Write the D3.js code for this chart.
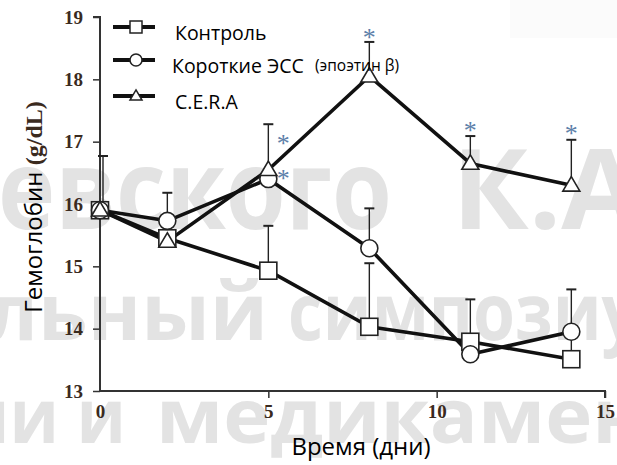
<!DOCTYPE html>
<html><head><meta charset="utf-8">
<script src="https://cdn.jsdelivr.net/npm/d3@7"></script>
<style>body{margin:0;background:#fff}svg{display:block}</style>
</head><body>
<script>
const days = [0, 2, 5, 8, 11, 14];
const control = [15.9, 15.45, 14.93, 14.03, 13.79, 13.51];
const shortESA = [15.9, 15.73, 16.4, 15.29, 13.59, 13.95];
const cera = [15.9, 15.4, 16.55, 18.05, 16.65, 16.3];
const controlErr = [0.87, null, 0.72, 1.02, 0.68, 0.45];
const shortESAErr = [null, 0.45, null, 0.64, null, 0.68];
const ceraErr = [null, null, 0.73, 0.55, 0.44, 0.73];
const asteriskDays = [5, 5, 8, 11, 14];
const asteriskVals = [17.07, 16.51, 18.78, 17.28, 17.24];
const asteriskShift = [1, 1, 0, 0, 0];
const xTicks = [0, 5, 10, 15];
const yTicks = [13, 14, 15, 16, 17, 18, 19];
const seriesNames = ["Контроль", "Короткие ЭСС", "C.E.R.A"];
const seriesNote = ["", "(эпоэтин β)", ""];
const watermarkWords = ["евского", "К.А", "льный", "симпозиу", "ии и", "медикамен"];

const W = 617, H = 465;
const svg = d3.select("body").append("svg").attr("width", W).attr("height", H);
const SERIF = "'Liberation Serif', 'Times New Roman', Times, 'DejaVu Serif', serif";
const SANS = "'Open Sans', 'Noto Sans', sans-serif";

// faint block top right
svg.append("rect").attr("x", 510).attr("y", 0).attr("width", 107).attr("height", 38).attr("fill", "#fbfbfb");

// watermark (word boxes: start x, end x, baseline, font size)
const wm = svg.append("g").attr("fill", "#e3e3e3").style("font-family", SANS).style("font-weight", 700);
const wmBox = [[-2, 392, 229, 112], [452, 640, 229, 112], [-14, 268, 340, 78], [288, 640, 340, 78], [-40, 126, 443, 76], [156, 645, 443, 76]];
watermarkWords.forEach((t, i) => {
  const b = wmBox[i];
  wm.append("text").attr("x", b[0]).attr("y", b[2]).style("font-size", b[3] + "px")
    .attr("textLength", b[1] - b[0]).attr("lengthAdjust", "spacingAndGlyphs").text(t);
});

const x = d3.scaleLinear().domain([0, 15]).range([100, 605]);
const y = d3.scaleLinear().domain([13, 19]).range([391, 17]);

const tickColor = "#3a2a1e";

// axes
const yAxis = svg.append("g").attr("transform", "translate(100,0)")
  .call(d3.axisLeft(y).tickValues(yTicks).tickSize(7).tickFormat(d3.format("d")));
const xAxis = svg.append("g").attr("transform", "translate(0,391)")
  .call(d3.axisBottom(x).tickValues(xTicks).tickSize(7).tickFormat(d3.format("d")));
[yAxis, xAxis].forEach(a => {
  a.attr("font-family", null).attr("font-size", null);
  a.select(".domain").attr("stroke", "#333").attr("stroke-width", 2);
  a.selectAll(".tick line").attr("stroke", "#333").attr("stroke-width", 1.5);
  a.selectAll(".tick text").style("font-family", SERIF).style("font-weight", 700)
    .style("font-size", "19px").attr("fill", tickColor);
});
yAxis.select(".domain").attr("d", "M-7,17H0V391");
xAxis.select(".domain").attr("d", "M100,0H605V7");
yAxis.selectAll(".tick text").attr("x", -17);
xAxis.selectAll(".tick text").attr("y", 14);
xAxis.selectAll(".tick").filter(d => d === 0).select("line").remove();

// error bars
const errG = svg.append("g").attr("stroke", "#222").attr("stroke-width", 1.4);
[[control, controlErr], [shortESA, shortESAErr], [cera, ceraErr]].forEach(([vals, errs]) => {
  days.forEach((d, i) => {
    if (errs[i] == null) return;
    const cx = x(d) + (d === 0 ? 3 : 0);
    const y0 = y(vals[i]), y1 = y(vals[i] + errs[i]);
    errG.append("line").attr("x1", cx).attr("x2", cx).attr("y1", y0).attr("y2", y1);
    errG.append("line").attr("x1", cx - 5).attr("x2", cx + 5).attr("y1", y1).attr("y2", y1).attr("stroke-width", 2);
  });
});

const line = d3.line().x((d, i) => x(days[i])).y(d => y(d));
const allSeries = [control, shortESA, cera];
const shapes = ["square", "circle", "triangle"];

function marker(g, shape, cx, cy, s) {
  if (shape === "square") {
    g.append("rect").attr("x", cx - s / 2).attr("y", cy - s / 2).attr("width", s).attr("height", s);
  } else if (shape === "circle") {
    g.append("circle").attr("cx", cx).attr("cy", cy).attr("r", s / 2);
  } else {
    const h = s * 0.85;
    g.append("path").attr("d", `M${cx},${cy - h * 0.6}L${cx + s / 2},${cy + h * 0.4}L${cx - s / 2},${cy + h * 0.4}Z`);
  }
}

allSeries.forEach((vals) => {
  svg.append("path").datum(vals).attr("d", line).attr("fill", "none")
    .attr("stroke", "#111").attr("stroke-width", 3.6).attr("stroke-linejoin", "round");
});
allSeries.forEach((vals, si) => {
  const g = svg.append("g").attr("fill", "#fff").attr("stroke", "#222").attr("stroke-width", 1.6);
  vals.forEach((v, i) => marker(g, shapes[si], x(days[i]), y(v), 17));
});

// asterisks
asteriskDays.forEach((d, i) => {
  svg.append("text").attr("x", x(d) + asteriskShift[i] * 15).attr("y", y(asteriskVals[i]) + 15)
    .attr("text-anchor", "middle").style("font-family", SERIF).style("font-size", "26px")
    .attr("fill", "#5b7ea8").text("*");
});

// legend
const lg = svg.append("g");
const legY = [27, 60, 96];
const legText = [175, 172, 175];
seriesNames.forEach((n, i) => {
  lg.append("line").attr("x1", 113).attr("x2", 155).attr("y1", legY[i]).attr("y2", legY[i])
    .attr("stroke", "#111").attr("stroke-width", 4);
  const g = lg.append("g").attr("fill", "#fff").attr("stroke", "#222").attr("stroke-width", 1.5);
  marker(g, shapes[i], 136, legY[i], 12);
  lg.append("text").attr("x", legText[i]).attr("y", legY[i] + 13)
    .style("font-family", SANS).style("font-size", "19.5px").attr("fill", "#000").text(n);
  if (seriesNote[i]) {
    lg.append("text").attr("x", 315).attr("y", legY[i] + 11)
      .style("font-family", SANS).style("font-size", "15.5px").attr("fill", "#000").text(seriesNote[i]);
  }
});

// axis titles
svg.append("text").attr("x", 361).attr("y", 455).attr("text-anchor", "middle")
  .style("font-family", SANS).style("font-size", "24px").attr("fill", "#000").text("Время (дни)");
const yt = svg.append("text").attr("transform", "translate(42,207) rotate(-90)").attr("text-anchor", "middle")
  .style("font-size", "24px").attr("fill", "#000");
yt.append("tspan").style("font-family", SANS).text("Гемоглобин ");
yt.append("tspan").style("font-family", SERIF).style("font-weight", 700).attr("fill", tickColor).text("(g/dL)");
</script>
</body></html>
